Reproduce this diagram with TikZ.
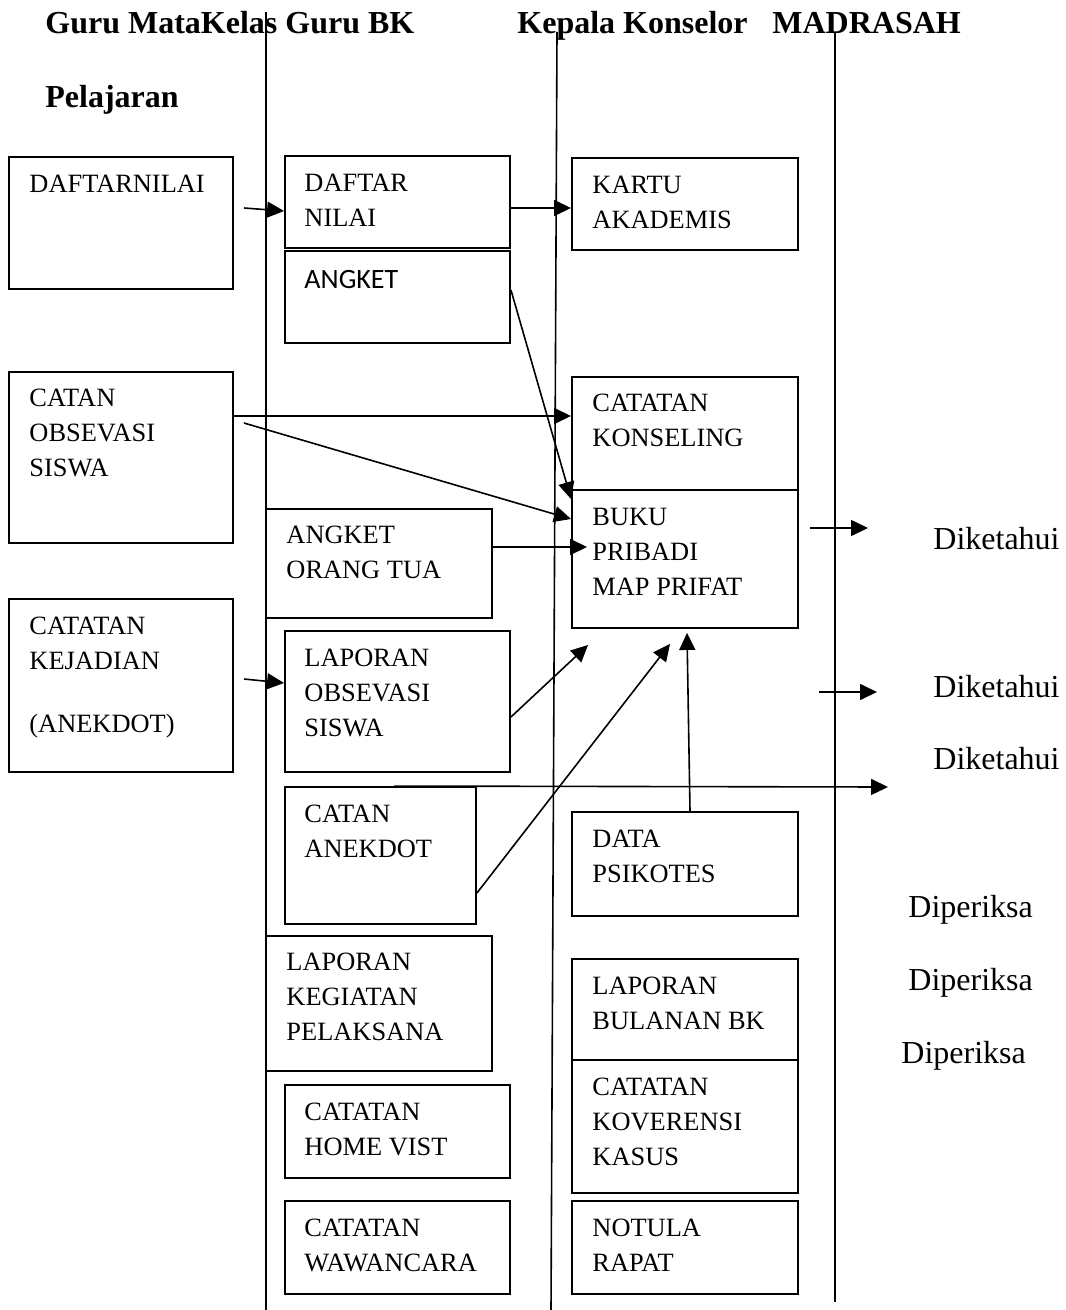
\documentclass[tikz,border=0pt]{standalone}
\usepackage{fontspec}
\setmainfont{Liberation Serif}
\newfontfamily\calibri{Carlito}
\usetikzlibrary{arrows.meta,fit}

\begin{document}
\begin{tikzpicture}[x=0.5pt,y=-0.5pt,
  kotak/.style={draw,line width=0.95pt,inner sep=0pt},
  isi/.style={anchor=north west,align=left,inner sep=0pt,font=\fontsize{13.2}{17.5}\selectfont},
  judul/.style={anchor=base west,inner sep=0pt,font=\fontsize{16}{19}\selectfont\bfseries},
  ket/.style={anchor=base west,inner sep=0pt,font=\fontsize{16}{19}\selectfont},
  panah/.style={line width=0.8pt,-{Triangle[length=8.5pt,width=8pt]}},
  garis/.style={line width=0.8pt}]
\useasboundingbox (0,0) rectangle (1065,1310);

\node[judul] (jGuru) at (45,34) {Guru MataKelas Guru BK};
\node[judul] (jPel) at (45,108) {Pelajaran};
\node[judul] (jKep) at (517,34) {Kepala Konselor};
\node[judul] (jMad) at (772,34) {MADRASAH};

\draw[garis] (266,12)--(266,1310);
\draw[garis] (557,32)--(551,1310);
\draw[garis] (835,32)--(835,1302);

\node[kotak,fit={(9,157)(233,289)}] (nilaiGuru) {};
\node[kotak,fit={(285,156)(510,248)}] (nilaiBK) {};
\node[kotak,fit={(285,251)(510,343)}] (angket) {};
\node[kotak,fit={(572,158)(798,250)}] (kartu) {};
\node[kotak,fit={(9,372)(233,543)}] (obsGuru) {};
\node[kotak,fit={(572,377)(798,490)}] (konseling) {};
\node[kotak,fit={(572,490)(798,628)}] (buku) {};
\node[kotak,fit={(266,509)(492,618)}] (ortu) {};
\node[kotak,fit={(9,599)(233,772)}] (kejadian) {};
\node[kotak,fit={(285,631)(510,772)}] (lapObs) {};
\node[kotak,fit={(285,787)(476,924)}] (anekdot) {};
\node[kotak,fit={(572,812)(798,916)}] (psikotes) {};
\node[kotak,fit={(266,936)(492,1071)}] (kegiatan) {};
\node[kotak,fit={(572,959)(798,1060)}] (bulanan) {};
\node[kotak,fit={(572,1060)(798,1193)}] (koferensi) {};
\node[kotak,fit={(285,1085)(510,1178)}] (homevist) {};
\node[kotak,fit={(285,1201)(510,1294)}] (wawancara) {};
\node[kotak,fit={(572,1201)(798,1294)}] (notula) {};

\node[isi] (tNilaiGuru) at ([xshift=10.5pt,yshift=-6pt]nilaiGuru.north west) {\strut DAFTARNILAI};
\node[isi] (tNilaiBK) at ([xshift=10pt,yshift=-5.75pt]nilaiBK.north west) {\strut DAFTAR\\NILAI};
\node[isi,font=\calibri\fontsize{14}{17.5}\selectfont] (tAngket) at ([xshift=10pt,yshift=-6.75pt]angket.north west) {\strut ANGKET};
\node[isi] (tKartu) at ([xshift=10.5pt,yshift=-5.75pt]kartu.north west) {\strut KARTU\\AKADEMIS};
\node[isi] (tObsGuru) at ([xshift=10.5pt,yshift=-5.25pt]obsGuru.north west) {\strut CATAN\\OBSEVASI\\SISWA};
\node[isi] (tKonseling) at ([xshift=10.5pt,yshift=-5.5pt]konseling.north west) {\strut CATATAN\\KONSELING};
\node[isi] (tBuku) at ([xshift=10.5pt,yshift=-5.75pt]buku.north west) {\strut BUKU\\PRIBADI\\MAP PRIFAT};
\node[isi] (tOrtu) at ([xshift=10.5pt,yshift=-5.5pt]ortu.north west) {\strut ANGKET\\ORANG TUA};
\node[isi] (tKejadian) at ([xshift=10.5pt,yshift=-5.75pt]kejadian.north west) {\strut CATATAN\\KEJADIAN\\[14pt](ANEKDOT)};
\node[isi] (tLapObs) at ([xshift=10pt,yshift=-5.75pt]lapObs.north west) {\strut LAPORAN\\OBSEVASI\\SISWA};
\node[isi] (tAnekdot) at ([xshift=10pt,yshift=-5.75pt]anekdot.north west) {\strut CATAN\\ANEKDOT};
\node[isi] (tPsikotes) at ([xshift=10.5pt,yshift=-5.75pt]psikotes.north west) {\strut DATA\\PSIKOTES};
\node[isi] (tKegiatan) at ([xshift=10.5pt,yshift=-5.25pt]kegiatan.north west) {\strut LAPORAN\\KEGIATAN\\PELAKSANA};
\node[isi] (tBulanan) at ([xshift=10.5pt,yshift=-5.75pt]bulanan.north west) {\strut LAPORAN\\BULANAN BK};
\node[isi] (tKoferensi) at ([xshift=10.5pt,yshift=-5.75pt]koferensi.north west) {\strut CATATAN\\KOVERENSI\\KASUS};
\node[isi] (tHomevist) at ([xshift=10pt,yshift=-5.75pt]homevist.north west) {\strut CATATAN\\HOME VIST};
\node[isi] (tWawancara) at ([xshift=10pt,yshift=-5.75pt]wawancara.north west) {\strut CATATAN\\WAWANCARA};
\node[isi] (tNotula) at ([xshift=10.5pt,yshift=-5.75pt]notula.north west) {\strut NOTULA\\RAPAT};

\node[ket] (dk1) at (933,549) {Diketahui};
\node[ket] (dk2) at (933,697) {Diketahui};
\node[ket] (dk3) at (933,769) {Diketahui};
\node[ket] (dp1) at (908,917) {Diperiksa};
\node[ket] (dp2) at (908,990) {Diperiksa};
\node[ket] (dp3) at (901,1063) {Diperiksa};

\coordinate (k1a) at (810,528);
\coordinate (k1b) at (868,528);
\coordinate (k2a) at (819,692);
\coordinate (k2b) at (877,692);
\coordinate (k3b) at (888,787);

\draw[panah] ([xshift=5pt,yshift=7.5pt]nilaiGuru.east)--([yshift=-4.5pt]nilaiBK.west);
\draw[panah] ([yshift=-3pt]nilaiBK.east)--([yshift=-2pt]kartu.west);
\draw[panah] ([yshift=3.5pt]angket.east)--([yshift=-5pt]buku.north west);
\draw[panah] ([yshift=20.75pt]obsGuru.east)--([yshift=8.75pt]konseling.west);
\draw[panah] ([xshift=5pt,yshift=17.25pt]obsGuru.east)--([yshift=20pt]buku.west);
\draw[panah] ([yshift=8.25pt]ortu.east)--([xshift=8pt,yshift=6pt]buku.west);
\draw[panah] ([xshift=5pt,yshift=3.25pt]kejadian.east)--([yshift=9.25pt]lapObs.west);
\draw[panah] ([yshift=-7.75pt]lapObs.east)--([xshift=8.5pt,yshift=-8pt]buku.south west);
\draw[panah] ([yshift=-18.75pt]anekdot.east)--([xshift=-7.5pt,yshift=-7.5pt]buku.south);
\draw[panah] ([xshift=2.5pt]psikotes.north)--([xshift=1pt,yshift=-2pt]buku.south);
\draw[panah] ([xshift=55pt]anekdot.north west)--(k3b);
\draw[panah] (k1a)--(k1b);
\draw[panah] (k2a)--(k2b);
\end{tikzpicture}
\end{document}
